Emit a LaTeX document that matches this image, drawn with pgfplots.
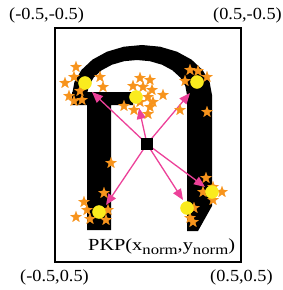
\documentclass[border=0pt]{standalone}
\usepackage{fontspec}
\setmainfont{Liberation Serif}
\usepackage{graphicx}
\usepackage{pgfplots}
\pgfplotsset{compat=1.18}
\usetikzlibrary{arrows.meta}
\definecolor{starc}{HTML}{F7941D}
\definecolor{dotc}{HTML}{FAEB1E}
\definecolor{arrc}{HTML}{EC4199}
\pgfdeclareplotmark{fstar}{%
  \pgfpathmoveto{\pgfpointpolar{90}{\pgfplotmarksize}}%
  \pgfpathlineto{\pgfpointpolar{126}{0.42\pgfplotmarksize}}%
  \pgfpathlineto{\pgfpointpolar{162}{\pgfplotmarksize}}%
  \pgfpathlineto{\pgfpointpolar{198}{0.42\pgfplotmarksize}}%
  \pgfpathlineto{\pgfpointpolar{234}{\pgfplotmarksize}}%
  \pgfpathlineto{\pgfpointpolar{270}{0.42\pgfplotmarksize}}%
  \pgfpathlineto{\pgfpointpolar{306}{\pgfplotmarksize}}%
  \pgfpathlineto{\pgfpointpolar{342}{0.42\pgfplotmarksize}}%
  \pgfpathlineto{\pgfpointpolar{18}{\pgfplotmarksize}}%
  \pgfpathlineto{\pgfpointpolar{54}{0.42\pgfplotmarksize}}%
  \pgfpathclose
  \pgfusepathqfillstroke
}
\newcommand\lab[1]{\scalebox{1.08}[1]{\fontsize{17}{20}\selectfont #1}}
\newcommand\sub[1]{\raisebox{-4.5pt}{\fontsize{14}{16}\selectfont #1}}
\begin{document}
\begin{tikzpicture}
\begin{axis}[name=ax,
  width=186bp, height=234bp, scale only axis,
  xmin=55, xmax=241, ymin=28, ymax=262, y dir=reverse,
  axis lines=box, ticks=none, clip=false,
  axis line style={line width=1.1bp, black}]
% glyph
\addplot[fill=black, draw=none] coordinates {
 (72,100) (72,95) (74.4,82.1) (81.4,70) (92.5,59.6) (107,51.7) (123.9,46.7)
 (142,45) (160.1,46.7) (177,51.7) (191.5,59.6) (202.6,70) (209.6,82.1) (212,95)
 (212,206) (198,231) (187,231) (187,95) (185.3,85.9) (180.3,77.5) (172.4,70.3)
 (162,64.7) (149.9,61.2) (137,60) (124.1,61.2) (112,64.7) (101.6,70.3)
 (93.7,77.5) (88.7,85.9) (87,95) (87,100)} -- cycle;
\addplot[fill=black, draw=none] coordinates {
 (72,92) (133,92) (133,105) (111,105) (111,230) (87,230) (87,105) (72,105)} -- cycle;
% stars
\addplot[only marks, mark=fstar, mark size=5.8bp, color=starc, fill=starc, line width=0.2bp] coordinates {
 (76,67) (74,77) (65,83) (100,77) (103,87) (80,91) (69,96) (82,100) (74,101)
 (140,78) (150,80) (133,86) (143,87) (152,90) (148,97) (163,95) (153,102) (140,102)
 (124,106) (134,110) (150,107) (148,114)
 (190,70) (198,71) (207,77) (185,81) (180,110) (207,112)
 (111,163) (104,193) (84,202) (87,210) (76,217) (90,219) (108,210) (106,220)
 (206,178) (213,187) (203,192) (222,192) (213,200) (194,208) (190,218) (193,222)};
% key points
\addplot[only marks, mark=*, mark size=6.5bp, color=dotc, fill=dotc] coordinates {
 (85,83) (136,97) (197,82) (99,212) (187,208) (212,192)};
% centre
\addplot[only marks, mark=square*, mark size=5.5bp, color=black] coordinates {(147,144)};
% arrows
\addplot[arrc, line width=1.3bp, -{Triangle[length=11bp,width=9bp]}] coordinates {(147,144) (92,92)};
\addplot[arrc, line width=1.3bp, -{Triangle[length=11bp,width=9bp]}] coordinates {(147,144) (139,108)};
\addplot[arrc, line width=1.3bp, -{Triangle[length=11bp,width=9bp]}] coordinates {(147,144) (190,93)};
\addplot[arrc, line width=1.3bp, -{Triangle[length=11bp,width=9bp]}] coordinates {(147,144) (106,205)};
\addplot[arrc, line width=1.3bp, -{Triangle[length=11bp,width=9bp]}] coordinates {(147,144) (183,200)};
\addplot[arrc, line width=1.3bp, -{Triangle[length=11bp,width=9bp]}] coordinates {(147,144) (205,187)};
% labels
\node[anchor=base west, inner sep=0pt] at (axis cs:9,20) {\lab{(-0.5,-0.5)}};
\node[anchor=base west, inner sep=0pt] at (axis cs:213,20) {\lab{(0.5,-0.5)}};
\node[anchor=base west, inner sep=0pt] at (axis cs:20,281) {\lab{(-0.5,0.5)}};
\node[anchor=base west, inner sep=0pt] at (axis cs:210,281) {\lab{(0.5,0.5)}};
\node[anchor=base west, inner sep=0pt] at (axis cs:88,250) {\scalebox{1.2}[1]{\fontsize{17}{20}\selectfont PKP(x\sub{norm},y\sub{norm})}};
\end{axis}
\pgfresetboundingbox
\path[use as bounding box] ([shift={(-55bp,-28bp)}]ax.south west) rectangle ([shift={(42bp,28bp)}]ax.north east);
\end{tikzpicture}
\end{document}
